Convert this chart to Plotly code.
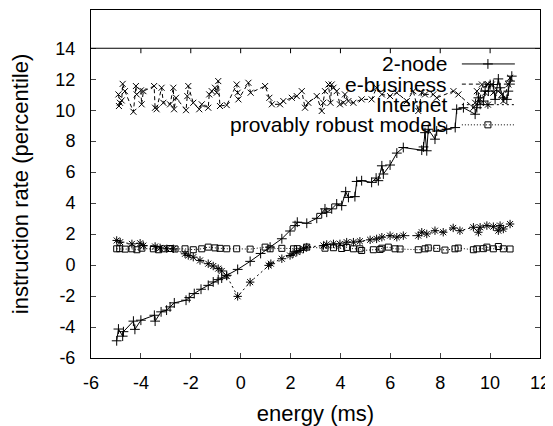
import plotly.graph_objects as go

# valores
node2_x = [-4.97, -4.90, -4.73, -4.70, -4.30, -4.24, -4.00, -3.46, -3.43, -3.19, -2.97, -2.83, -2.66,
           -2.19, -2.06, -1.86, -1.59, -1.30, -1.10, -0.90, -0.76, -0.56, -0.12, 0.38, 0.80, 1.18, 1.65,
           1.98, 2.18, 2.27, 2.65, 3.05, 3.25, 3.38, 3.45, 3.65, 3.85, 4.05, 4.21, 4.32, 4.58, 4.65, 4.85,
           5.25, 5.43, 5.52, 5.66, 5.72, 5.99, 6.26, 6.52, 7.26, 7.33, 7.39, 7.46, 7.52, 7.79, 7.86, 8.26,
           8.60, 8.66, 8.93, 9.40, 9.47, 9.53, 9.60, 9.73, 9.80, 9.93, 10.00, 10.13, 10.20, 10.33, 10.40,
           10.53, 10.67, 10.73, 10.80, 10.87]
node2_y = [-4.89, -4.13, -4.59, -4.30, -3.62, -4.15, -3.56, -3.24, -3.62, -3.02, -2.91, -2.70, -2.44,
           -2.27, -2.10, -1.84, -1.56, -1.31, -1.09, -0.94, -0.84, -0.66, -0.28, 0.24, 0.75, 1.16, 1.70,
           2.20, 2.55, 2.77, 2.70, 3.02, 3.34, 3.63, 3.41, 3.63, 3.95, 3.84, 4.74, 4.37, 4.42, 5.40, 5.45,
           5.34, 5.62, 5.45, 6.41, 5.88, 6.46, 7.23, 7.59, 7.42, 7.63, 8.55, 7.38, 8.77, 8.13, 8.66, 8.77,
           8.88, 10.06, 10.16, 9.74, 10.16, 10.80, 10.38, 10.59, 11.23, 11.23, 11.66, 11.66, 10.70, 12.02, 11.45,
           10.80, 10.70, 11.23, 11.88, 12.20]

ebiz_x = [-4.90, -4.84, -4.88, -4.77, -4.73, -4.64, -4.30, -4.20, -4.17, -4.00, -3.97, -3.90, -3.47,
          -3.43, -3.37, -3.17, -3.10, -2.83, -2.70, -2.67, -2.59, -2.19, -2.14, -2.10, -1.90, -1.66, -1.56,
          -1.30, -1.26, -1.16, -1.03, -0.96, -0.90, -0.83, -0.56, -0.16, -0.12, -0.09, 0.31, 0.40, 0.98,
          1.15, 1.25, 1.58, 1.71, 2.05, 2.25, 2.45, 2.58, 2.71, 3.05, 3.25, 3.31, 3.38, 3.52, 3.60, 3.65,
          3.72, 3.85, 3.98, 4.12, 4.18, 4.32, 4.52, 4.85, 5.25, 5.45, 5.66, 5.99, 6.26, 6.66, 6.92, 7.12,
          7.26, 7.39, 7.72, 7.86, 8.53, 8.73, 9.33, 9.40, 9.47, 9.60, 9.67, 9.80, 9.87, 10.07, 10.13, 10.33,
          10.47, 10.53, 10.73, 10.80]
ebiz_y = [11.02, 10.48, 10.27, 10.63, 11.70, 11.23, 9.90, 11.56, 11.02, 11.28, 10.38, 11.23, 11.56,
          10.16, 10.06, 11.45, 10.48, 10.38, 11.45, 10.06, 10.80, 10.00, 10.91, 11.56, 10.48, 10.06, 10.38,
          10.16, 11.02, 11.23, 11.45, 11.13, 11.88, 10.27, 10.33, 11.66, 11.13, 10.70, 11.77, 11.13, 11.56,
          10.80, 10.38, 10.38, 10.59, 10.80, 10.91, 11.23, 10.16, 10.48, 10.91, 9.95, 10.48, 11.23, 11.66, 10.48, 11.66,
          11.45, 11.23, 10.38, 10.48, 11.02, 10.59, 10.48, 10.70, 10.70, 11.45, 11.02, 10.91, 11.13, 10.59, 11.23, 9.95,
          11.13, 11.02, 11.02, 10.80, 11.23, 11.02, 10.16, 10.48, 11.23, 10.70, 11.66, 11.13, 11.66, 11.66, 11.13, 11.23,
          11.02, 10.59, 11.66, 12.09]

inet_x = [-4.97, -4.83, -4.36, -4.03, -3.90, -3.43, -3.23, -2.96, -2.70, -2.23, -2.10, -1.90, -1.63,
          -1.30, -1.10, -0.90, -0.76, -0.56, -0.12, 0.38, 1.12, 1.21, 1.65, 1.98, 2.10, 2.25, 2.38, 2.52,
          2.65, 3.32, 3.45, 3.72, 3.98, 4.25, 4.52, 4.78, 5.19, 5.45, 5.66, 5.99, 6.26, 6.52, 7.12, 7.26,
          7.46, 7.79, 8.12, 8.52, 8.79, 9.33, 9.53, 9.60, 9.87, 10.13, 10.33, 10.40, 10.53, 10.80]
inet_y = [1.59, 1.48, 1.37, 1.41, 1.26, 1.20, 1.11, 1.05, 1.05, 0.73, 0.62, 0.51, 0.30,
          0.09, -0.06, -0.23, -0.38, -0.70, -2.02, -1.10, -0.02, 0.09, 0.41, 0.62, 0.73, 0.84, 0.94, 1.05,
          1.16, 1.26, 1.33, 1.37, 1.37, 1.48, 1.48, 1.54, 1.63, 1.69, 1.80, 1.90, 1.80, 1.90, 1.90, 2.12,
          2.01, 2.22, 2.12, 2.40, 2.22, 2.44, 2.12, 2.44, 2.55, 2.48, 2.22, 2.55, 2.33, 2.65]

robust_x = [-4.97, -4.85, -4.63, -4.36, -4.16, -3.96, -3.50, -3.29, -3.10, -2.83, -2.63, -2.23, -1.90,
            -1.56, -1.30, -1.03, -0.83, -0.56, -0.16, 0.38, 0.98, 1.18, 1.65, 2.12, 2.27, 2.65, 3.38, 3.72,
            4.05, 4.25, 4.52, 4.78, 4.85, 5.32, 5.59, 5.66, 5.92, 6.19, 6.39, 7.12, 7.39, 7.52, 7.86, 8.19,
            8.59, 8.72, 9.33, 9.47, 9.73, 9.87, 10.13, 10.33, 10.53, 10.80]
robust_y = [1.05, 1.06, 1.03, 1.05, 0.99, 1.09, 1.05, 0.99, 1.05, 1.07, 1.04, 1.05, 0.99,
            1.05, 1.16, 1.11, 1.08, 1.05, 1.05, 1.03, 1.16, 1.05, 1.08, 1.05, 1.06, 1.16, 1.09, 1.12,
            1.07, 1.14, 1.05, 1.05, 0.94, 0.99, 1.01, 1.09, 1.16, 1.05, 1.04, 0.99, 1.05, 1.11, 1.08, 0.97,
            1.05, 1.10, 0.99, 1.05, 1.06, 1.16, 1.05, 1.20, 1.05, 1.04]

x_ticks = [-6, -4, -2, 0, 2, 4, 6, 8, 10, 12]
y_ticks = [-6, -4, -2, 0, 2, 4, 6, 8, 10, 12, 14]

series = [
    ('2-node', node2_x, node2_y, 'solid', 'cross-thin-open', 7),
    ('e-business', ebiz_x, ebiz_y, '4px,3px', 'x-thin-open', 6),
    ('Internet', inet_x, inet_y, '2px,3px', 'asterisk-open', 7),
    ('provably robust models', robust_x, robust_y, '1px,2px', 'square-open', 6),
]

fonte = dict(family='Liberation Sans, Arial, sans-serif', color='black')

fig = go.Figure()
for nome, xs, ys, traco, simbolo, tam in series:
    fig.add_trace(go.Scatter(
        x=xs, y=ys, mode='lines+markers', name=nome, showlegend=False,
        line=dict(color='black', width=1, dash=traco),
        marker=dict(symbol=simbolo, size=tam, color='black', line=dict(width=1, color='black'))
    ))

# legenda desenhada à mão (texto à esquerda, amostra à direita)
leg_y = [0.845, 0.787, 0.728, 0.67]
for (nome, xs, ys, traco, simbolo, tam), ly in zip(series, leg_y):
    fig.add_trace(go.Scatter(
        x=[0.826, 0.944], y=[ly, ly], mode='lines', xaxis='x3', yaxis='y3', showlegend=False,
        line=dict(color='black', width=1, dash=traco), hoverinfo='skip'
    ))
    fig.add_trace(go.Scatter(
        x=[0.884], y=[ly], mode='markers', xaxis='x3', yaxis='y3', showlegend=False,
        marker=dict(symbol=simbolo, size=tam, color='black', line=dict(width=1, color='black')),
        hoverinfo='skip'
    ))
    fig.add_annotation(x=0.797, y=ly, xref='x3', yref='y3', text=nome, showarrow=False,
                       xanchor='right', yanchor='middle', font=dict(size=21, **fonte))

# linha horizontal em 14, com marcas de escala viradas para baixo
fig.add_shape(type='line', xref='paper', yref='y', x0=0, x1=1, y0=14, y1=14,
              line=dict(color='black', width=1))
for t in x_ticks[1:-1]:
    fig.add_shape(type='line', xref='x', yref='y', ysizemode='pixel', yanchor=14,
                  x0=t, x1=t, y0=0, y1=-5, line=dict(color='black', width=1))

# a página tem 8px de margem no body: a figura é menor e as margens compensam
y_min, y_max = -6, 16.47
fig.update_layout(
    width=545, height=418,
    margin=dict(l=83, r=13, t=2, b=68),
    plot_bgcolor='white', paper_bgcolor='white',
    font=dict(size=18, **fonte),
    xaxis=dict(range=[-6, 12], tickvals=x_ticks, ticktext=[str(v) for v in x_ticks],
               ticks='inside', ticklen=5, showline=True, automargin=False,
               linecolor='black', linewidth=1, mirror=True, showgrid=False, zeroline=False,
               title=dict(text='energy (ms)', standoff=22), ticklabelstandoff=8),
    yaxis=dict(range=[y_min, y_max], tickvals=y_ticks, ticktext=[str(v) for v in y_ticks],
               ticks='inside', ticklen=5, automargin=False,
               showline=True, linecolor='black', linewidth=1, mirror='ticks', showgrid=False,
               zeroline=False, title=dict(text='instruction rate (percentile)', standoff=22),
               ticklabelstandoff=11),
    xaxis3=dict(range=[0, 1], overlaying='x', visible=False),
    yaxis3=dict(range=[0, 1], overlaying='y', visible=False),
)

fig.write_html('out.html')
